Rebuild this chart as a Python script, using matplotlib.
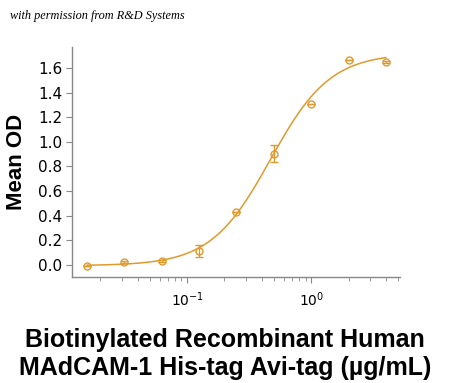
import numpy as np
import matplotlib
matplotlib.use("Agg")
import matplotlib.pyplot as plt
from matplotlib.ticker import LogLocator, NullFormatter

# --- Data ---
conc = [0.015625, 0.03125, 0.0625, 0.125, 0.25, 0.5, 1.0, 2.0, 4.0]  # ug/mL
mean_od = [-0.005, 0.022, 0.033, 0.114, 0.428, 0.905, 1.305, 1.665, 1.650]
err = [0.0, 0.008, 0.008, 0.05, 0.0, 0.07, 0.0, 0.0, 0.008]

# 4PL fit parameters estimated from the drawn curve
fit_bottom = -0.005
fit_top = 1.72
fit_ec50 = 0.47
fit_hill = 1.8

COLOR = "#E09A2C"

fig = plt.figure(figsize=(4.5, 3.83), dpi=100)
ax = fig.add_axes([72 / 450, 1 - 277 / 383, 328 / 450, 230 / 383])

xs = np.logspace(np.log10(0.0156), np.log10(4.0), 300)
ys = fit_bottom + (fit_top - fit_bottom) / (1 + (fit_ec50 / xs) ** fit_hill)
ax.plot(xs, ys, color=COLOR, lw=1.1)
ax.errorbar(conc, mean_od, yerr=err, fmt="o", ms=5, mfc="none", mec=COLOR,
            mew=1.0, ecolor=COLOR, elinewidth=1.0, capsize=3)

ax.set_xscale("log")
ax.set_xlim(0.0118, 5.2)
ax.set_ylim(-0.097, 1.77)
ax.set_yticks(np.arange(0, 1.61, 0.2))
ax.set_yticklabels([f"{v:.1f}" for v in np.arange(0, 1.61, 0.2)])
ax.xaxis.set_major_locator(LogLocator(base=10, numticks=10))
ax.xaxis.set_minor_locator(LogLocator(base=10, subs=np.arange(2, 10), numticks=20))
ax.xaxis.set_minor_formatter(NullFormatter())

for s in ["top", "right"]:
    ax.spines[s].set_visible(False)
for s in ["left", "bottom"]:
    ax.spines[s].set_color("#888888")
    ax.spines[s].set_linewidth(1.0)
ax.tick_params(axis="both", which="both", color="#888888", direction="out")
ax.tick_params(axis="y", length=4, labelsize=11, pad=3)
ax.tick_params(axis="x", which="major", length=4, labelsize=10, pad=6)
ax.tick_params(axis="x", which="minor", length=3)

ax.set_ylabel("Mean OD", fontsize=16, fontweight="bold",
              family=["Liberation Sans", "DejaVu Sans"], labelpad=8)
fig.text(0.5, 1 - 354 / 383,
         "Biotinylated Recombinant Human\nMAdCAM-1 His-tag Avi-tag (\u00b5g/mL)",
         ha="center", va="center", fontsize=18, fontweight="bold",
         family=["Liberation Sans", "DejaVu Sans"], linespacing=1.18)
fig.text(10 / 450, 1 - 16 / 383, "with permission from R&D Systems",
         fontsize=8.8, style="italic", family=["Liberation Serif", "DejaVu Serif"],
         va="center")

fig.savefig("out.png", dpi=100)
